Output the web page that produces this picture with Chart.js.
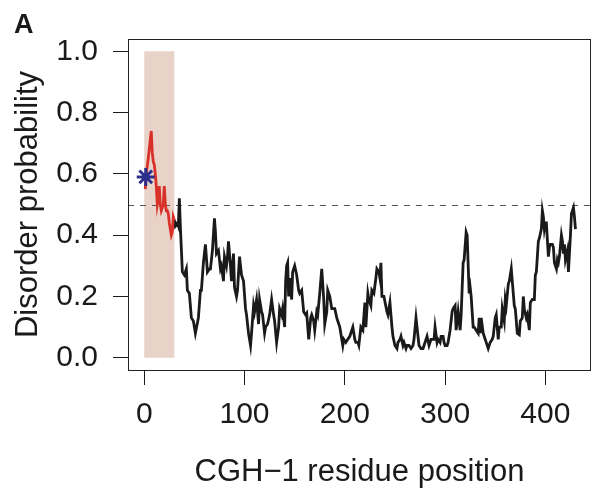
<!DOCTYPE html>
<html>
<head>
<meta charset="utf-8">
<script src="https://cdn.jsdelivr.net/npm/chart.js@4/dist/chart.umd.min.js"></script>
<style>
  html, body { margin: 0; padding: 0; background: #ffffff; }
  #wrap { width: 603px; height: 494px; }
</style>
</head>
<body>
<div id="wrap"><canvas id="c" width="603" height="494"></canvas></div>
<script>
// ---- data ----
const xTickValues = [0, 100, 200, 300, 400];
const yTickValues = [0, 0.2, 0.4, 0.6, 0.8, 1.0];
const xTitle = "CGH\u22121 residue position";
const yTitle = "Disorder probability";
const panelLabel = "A";
const threshold = 0.5;
const regionStart = 0, regionEnd = 30, regionLow = 0, regionHigh = 1;
const starPositions = [1.5];
const starValues = [0.59];

const redPositions = [1,2,4,6,7,8,9,10,11,12,13,14,15,16,17,18,19,20,21,22,23,24,25,26,27,28,29,30];
const redValues = [0.55,0.60,0.65,0.71,0.74,0.67,0.64,0.63,0.60,0.56,0.50,0.52,0.56,0.50,0.48,0.49,0.50,0.56,0.50,0.48,0.48,0.47,0.44,0.42,0.40,0.41,0.46,0.45];

const blackPositions = [
  30,31,33,34,35,36,38,40,42,43,
  45,47,49,51,54,56,57,59,61,63,
  65,66,68,70,71,72,74,76,77,79,
  80,82,83,84,86,87,89,90,92,93,
  95,97,99,101,102,104,106,107,109,110,
  112,114,115,117,118,120,121,123,125,127,
  129,130,132,134,135,137,138,140,141,142,
  143,144,145,147,148,150,152,154,155,157,
  159,161,162,164,166,167,169,170,172,173,
  175,177,179,180,182,183,185,187,189,190,
  192,193,195,196,198,199,201,203,205,206,
  208,210,211,213,214,216,218,220,221,223,
  224,226,227,229,231,232,234,235,236,237,
  239,242,243,245,247,248,250,252,253,255,
  256,258,259,261,262,264,266,268,269,271,
  272,274,276,278,279,281,282,284,285,286,
  288,289,290,292,293,295,296,298,299,300,
  302,303,305,307,308,310,311,313,315,316,
  318,319,321,322,324,325,326,328,329,331,
  333,334,335,336,338,339,341,343,345,347,
  348,350,351,353,354,356,357,359,360,361,
  363,364,366,367,369,370,372,374,375,377,
  378,379,381,382,384,385,387,389,390,391,
  393,394,396,397,398,399,400,401,403,404,
  405,407,408,409,411,412,413,414,416,417,
  418,419,420,422,423,425,426,428,429,430
];
const blackValues = [
  0.45,0.43,0.44,0.43,0.52,0.43,0.28,0.27,0.29,0.22,
  0.21,0.13,0.12,0.08,0.13,0.22,0.22,0.31,0.37,0.28,
  0.29,0.29,0.35,0.455,0.41,0.34,0.35,0.29,0.30,0.25,
  0.33,0.30,0.33,0.38,0.30,0.25,0.34,0.23,0.20,0.22,
  0.33,0.27,0.25,0.16,0.14,0.08,0.04,0.08,0.17,0.15,
  0.19,0.11,0.19,0.15,0.14,0.08,0.10,0.11,0.14,0.19,
  0.14,0.12,0.05,0.10,0.16,0.14,0.16,0.10,0.25,0.30,
  0.31,0.20,0.26,0.19,0.28,0.30,0.27,0.22,0.21,0.22,
  0.15,0.14,0.145,0.06,0.13,0.14,0.12,0.09,0.15,0.14,
  0.21,0.29,0.19,0.11,0.15,0.22,0.20,0.16,0.16,0.16,
  0.13,0.12,0.10,0.08,0.04,0.06,0.05,0.06,0.07,0.08,
  0.10,0.06,0.05,0.05,0.04,0.10,0.09,0.18,0.10,0.21,
  0.19,0.17,0.22,0.21,0.26,0.29,0.28,0.26,0.31,0.20,
  0.20,0.15,0.14,0.18,0.10,0.07,0.04,0.03,0.05,0.06,
  0.07,0.04,0.05,0.03,0.04,0.04,0.03,0.04,0.06,0.13,
  0.10,0.04,0.03,0.03,0.04,0.06,0.07,0.04,0.05,0.06,
  0.06,0.06,0.10,0.05,0.06,0.05,0.07,0.07,0.05,0.04,
  0.04,0.05,0.09,0.15,0.16,0.17,0.09,0.15,0.09,0.14,
  0.31,0.32,0.41,0.40,0.21,0.23,0.20,0.10,0.10,0.09,
  0.08,0.13,0.08,0.13,0.08,0.07,0.05,0.03,0.05,0.06,
  0.07,0.13,0.14,0.06,0.10,0.10,0.16,0.12,0.19,0.17,
  0.24,0.25,0.29,0.25,0.17,0.16,0.08,0.075,0.12,0.13,
  0.20,0.16,0.13,0.14,0.09,0.18,0.19,0.19,0.27,0.28,
  0.38,0.39,0.42,0.48,0.46,0.42,0.44,0.44,0.33,0.36,
  0.37,0.37,0.36,0.31,0.29,0.32,0.31,0.33,0.40,0.38,
  0.34,0.37,0.32,0.35,0.28,0.40,0.47,0.49,0.46,0.42
];

// ---- styling ----
const FONT = "'Liberation Sans', Arial, Helvetica, sans-serif";
const INK = '#1a1a1a';

const toXY = (xs, ys) => xs.map((x, i) => ({ x: x, y: ys[i] }));

const decorPlugin = {
  id: 'decor',
  beforeDatasetsDraw(chart) {
    const { ctx, chartArea, scales } = chart;
    const xs = scales.x, ys = scales.y;
    ctx.save();
    // shaded region
    const x0 = xs.getPixelForValue(regionStart), x1 = xs.getPixelForValue(regionEnd);
    const y0 = ys.getPixelForValue(regionHigh), y1 = ys.getPixelForValue(regionLow);
    ctx.fillStyle = '#e9d3c8';
    ctx.fillRect(x0, y0, x1 - x0, y1 - y0);
    // threshold dashed line
    const yt = Math.round(ys.getPixelForValue(threshold)) + 0.5;
    ctx.strokeStyle = '#555555';
    ctx.lineWidth = 1;
    ctx.setLineDash([6, 6]);
    ctx.beginPath();
    ctx.moveTo(chartArea.left, yt);
    ctx.lineTo(chartArea.right, yt);
    ctx.stroke();
    ctx.restore();
  },
  afterDraw(chart) {
    const { ctx, chartArea } = chart;
    ctx.save();
    ctx.strokeStyle = '#222222';
    ctx.lineWidth = 1;
    ctx.setLineDash([]);
    ctx.strokeRect(Math.round(chartArea.left) + 0.5, Math.round(chartArea.top) + 0.5,
                   Math.round(chartArea.right - chartArea.left) - 1, Math.round(chartArea.bottom - chartArea.top));
    ctx.fillStyle = INK;
    ctx.font = "bold 27px " + FONT;
    ctx.textBaseline = 'alphabetic';
    ctx.textAlign = 'left';
    ctx.fillText(panelLabel, 14, 33);
    ctx.restore();
  }
};

new Chart(document.getElementById('c'), {
  type: 'scatter',
  data: {
    datasets: [
      {
        data: toXY(blackPositions, blackValues),
        showLine: true, borderColor: '#1a1a1a', borderWidth: 2.8,
        pointRadius: 0, tension: 0, order: 3
      },
      {
        data: toXY(redPositions, redValues),
        showLine: true, borderColor: '#d9302a', borderWidth: 2.8,
        pointRadius: 0, tension: 0, order: 2
      },
      {
        data: toXY(starPositions, starValues),
        showLine: false, pointStyle: 'star', pointRadius: 9,
        borderColor: '#2b2e8c', backgroundColor: '#2b2e8c', pointBorderWidth: 3,
        borderWidth: 3, order: 1
      }
    ]
  },
  options: {
    responsive: false,
    animation: false,
    events: [],
    layout: { padding: { left: 0, right: 1, top: 39, bottom: 0 } },
    plugins: { legend: { display: false }, tooltip: { enabled: false } },
    scales: {
      x: {
        type: 'linear', min: -16.2, max: 445.5,
        afterFit(scale) { scale.height = 124; },
        afterBuildTicks(scale) { scale.ticks = xTickValues.map(v => ({ value: v })); },
        grid: { display: true, drawOnChartArea: false, drawTicks: true, tickLength: 15, color: INK, lineWidth: 1 },
        border: { display: false },
        ticks: {
          autoSkip: false, maxRotation: 0, padding: 12, color: INK,
          font: { family: FONT, size: 30 },
          callback: v => String(v)
        },
        title: { display: true, text: xTitle, color: INK, font: { family: FONT, size: 31 }, padding: { top: 0, bottom: 3 } }
      },
      y: {
        type: 'linear', min: -0.04, max: 1.04,
        afterFit(scale) { scale.width = 128; },
        afterBuildTicks(scale) { scale.ticks = yTickValues.map(v => ({ value: v })); },
        grid: { display: true, drawOnChartArea: false, drawTicks: true, tickLength: 15, color: INK, lineWidth: 1 },
        border: { display: false },
        ticks: {
          autoSkip: false, padding: 15, color: INK,
          font: { family: FONT, size: 30 },
          callback: v => Number(v).toFixed(1)
        },
        title: { display: true, text: yTitle, color: INK, font: { family: FONT, size: 31 }, padding: { top: 10, bottom: 0 } }
      }
    }
  },
  plugins: [decorPlugin]
});
</script>
</body>
</html>
